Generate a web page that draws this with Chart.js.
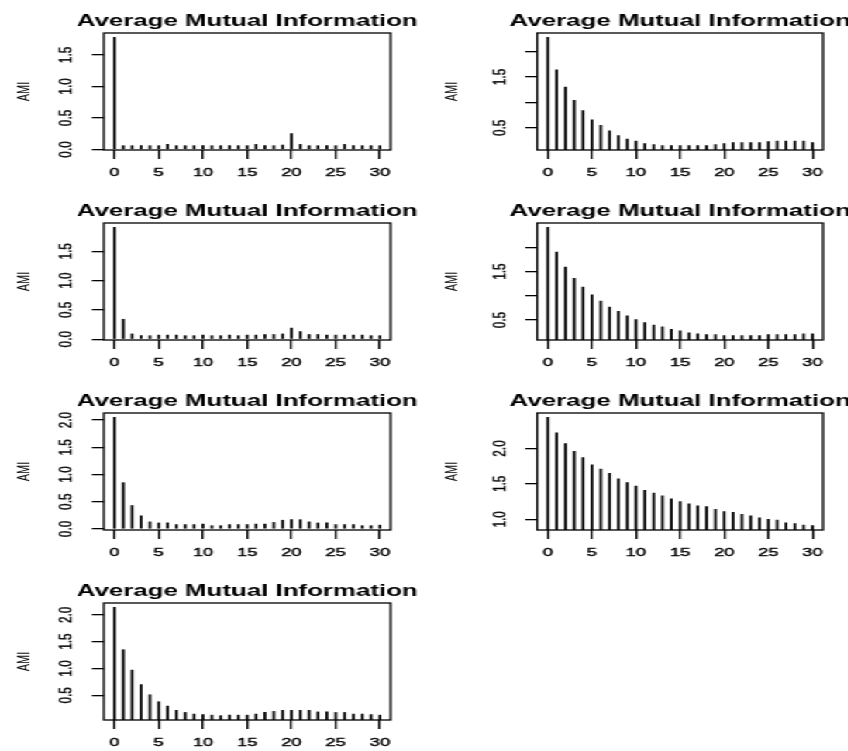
<!DOCTYPE html>
<html>
<head>
<meta charset="utf-8">
<script src="https://cdn.jsdelivr.net/npm/chart.js@4/dist/chart.umd.min.js"></script>
<style>
  html, body { margin: 0; padding: 0; background: #fff; overflow: hidden; }
  /* the reference is stretched sideways, so draw narrow and widen */
  #wrap { position: absolute; left: 0; top: 0; width: 547px; height: 751px;
          transform: scaleX(1.55); transform-origin: 0 0; }
  #wrap canvas { position: absolute; }
</style>
</head>
<body>
<div id="wrap"></div>
<script>
const chartTitle = 'Average Mutual Information';
const yTitle = 'AMI';

const lags = [0, 1, 2, 3, 4, 5, 6, 7, 8, 9, 10, 11, 12, 13, 14, 15,
              16, 17, 18, 19, 20, 21, 22, 23, 24, 25, 26, 27, 28, 29, 30];
const xTicks = [0, 5, 10, 15, 20, 25, 30];

// AMI per lag, one list per panel (reading order: left/right, top to bottom)
const ami1 = [1.78, 0.06, 0.06, 0.06, 0.06, 0.06, 0.08, 0.06, 0.06, 0.06, 0.06, 0.06, 0.06, 0.06, 0.06, 0.06,
              0.08, 0.06, 0.06, 0.07, 0.25, 0.08, 0.06, 0.06, 0.06, 0.06, 0.08, 0.06, 0.06, 0.06, 0.06];
const ami2 = [2.28, 1.64, 1.30, 1.04, 0.84, 0.66, 0.55, 0.44, 0.35, 0.28, 0.24, 0.19, 0.17, 0.15, 0.15, 0.15,
              0.15, 0.15, 0.15, 0.17, 0.19, 0.21, 0.21, 0.21, 0.21, 0.23, 0.24, 0.24, 0.24, 0.24, 0.21];
const ami3 = [1.91, 0.34, 0.09, 0.06, 0.06, 0.07, 0.07, 0.07, 0.06, 0.06, 0.07, 0.06, 0.06, 0.07, 0.06, 0.07,
              0.07, 0.08, 0.08, 0.09, 0.19, 0.13, 0.08, 0.08, 0.07, 0.07, 0.07, 0.07, 0.07, 0.06, 0.06];
const ami4 = [2.41, 1.90, 1.59, 1.36, 1.18, 1.02, 0.89, 0.77, 0.68, 0.59, 0.51, 0.45, 0.40, 0.36, 0.31, 0.28,
              0.24, 0.22, 0.20, 0.20, 0.18, 0.18, 0.18, 0.18, 0.18, 0.20, 0.20, 0.20, 0.20, 0.22, 0.22];
const ami5 = [2.05, 0.85, 0.43, 0.24, 0.13, 0.11, 0.11, 0.08, 0.08, 0.08, 0.09, 0.06, 0.06, 0.08, 0.08, 0.08,
              0.09, 0.09, 0.12, 0.16, 0.17, 0.17, 0.13, 0.11, 0.11, 0.08, 0.08, 0.08, 0.06, 0.06, 0.07];
const ami6 = [2.44, 2.22, 2.07, 1.96, 1.87, 1.77, 1.71, 1.65, 1.57, 1.52, 1.47, 1.41, 1.37, 1.33, 1.29, 1.25,
              1.22, 1.19, 1.18, 1.14, 1.11, 1.10, 1.07, 1.05, 1.02, 1.00, 0.99, 0.95, 0.94, 0.92, 0.91];
const ami7 = [2.14, 1.35, 0.97, 0.70, 0.51, 0.38, 0.30, 0.22, 0.18, 0.15, 0.14, 0.13, 0.12, 0.13, 0.13, 0.13,
              0.15, 0.18, 0.20, 0.22, 0.22, 0.22, 0.22, 0.19, 0.19, 0.18, 0.18, 0.15, 0.15, 0.14, 0.13];

const yTicks1 = [0, 0.5, 1, 1.5];      const yLabels1 = ['0.0', '0.5', '1.0', '1.5'];
const yTicks2 = [0.5, 1, 1.5, 2];      const yLabels2 = ['0.5', '', '1.5', ''];
const yTicks3 = [0, 0.5, 1, 1.5];      const yLabels3 = ['0.0', '0.5', '1.0', '1.5'];
const yTicks4 = [0.5, 1, 1.5, 2];      const yLabels4 = ['0.5', '', '1.5', ''];
const yTicks5 = [0, 0.5, 1, 1.5, 2];   const yLabels5 = ['0.0', '0.5', '1.0', '1.5', '2.0'];
const yTicks6 = [1, 1.5, 2];           const yLabels6 = ['1.0', '1.5', '2.0'];
const yTicks7 = [0.5, 1, 1.5, 2];      const yLabels7 = ['0.5', '1.0', '1.5', '2.0'];

const panels = [
  { vals: ami1, yt: yTicks1, yl: yLabels1, row: 0, col: 0 },
  { vals: ami2, yt: yTicks2, yl: yLabels2, row: 0, col: 1 },
  { vals: ami3, yt: yTicks3, yl: yLabels3, row: 1, col: 0 },
  { vals: ami4, yt: yTicks4, yl: yLabels4, row: 1, col: 1 },
  { vals: ami5, yt: yTicks5, yl: yLabels5, row: 2, col: 0 },
  { vals: ami6, yt: yTicks6, yl: yLabels6, row: 2, col: 1 },
  { vals: ami7, yt: yTicks7, yl: yLabels7, row: 3, col: 0 },
];

const FONT = '"Liberation Sans", Arial, sans-serif';

// column geometry (unstretched px)
const cols = [
  { left: 0,   width: 274, axisW: 67, padR: 22, titlePad: 9 },
  { left: 274, width: 273, axisW: 72.6, padR: 16, titlePad: 11 },
];

// box round the plot area and the bold title above it, like base R graphics
const boxAndTitle = {
  id: 'boxAndTitle',
  afterDraw(chart) {
    const { ctx, chartArea: a } = chart;
    ctx.save();
    ctx.strokeStyle = '#000';
    ctx.lineWidth = 1.3;
    ctx.strokeRect(a.left, a.top, a.right - a.left, a.bottom - a.top);
    ctx.fillStyle = '#000';
    ctx.font = 'bold 16.7px ' + FONT;
    ctx.textAlign = 'center';
    ctx.textBaseline = 'middle';
    ctx.fillText(chartTitle, (a.left + a.right) / 2, a.top - 12);
    ctx.restore();
  }
};

const wrap = document.getElementById('wrap');

panels.forEach(p => {
  const c = cols[p.col];
  const canvas = document.createElement('canvas');
  canvas.width = c.width;
  canvas.height = 190;
  canvas.style.left = c.left + 'px';
  canvas.style.top = (p.row * 190) + 'px';
  wrap.appendChild(canvas);

  // R style axis range: data range widened by 4% each side
  const lo = Math.min(...p.vals), hi = Math.max(...p.vals);
  const ext = (hi - lo) * 0.04;

  new Chart(canvas.getContext('2d'), {
    type: 'bar',
    data: {
      datasets: [{
        data: lags.map((l, i) => ({ x: l, y: p.vals[i] })),
        backgroundColor: '#000',
        borderWidth: 0,
        barThickness: 1.1
      }]
    },
    options: {
      responsive: false,
      animation: false,
      devicePixelRatio: 1,
      layout: { padding: { left: 0, right: c.padR, top: 33, bottom: 0 } },
      plugins: {
        legend: { display: false },
        tooltip: { enabled: false },
        title: { display: false }
      },
      scales: {
        x: {
          type: 'linear',
          min: -1.2,
          max: 31.2,
          offset: false,
          bounds: 'data',
          afterBuildTicks: s => { s.ticks = xTicks.map(v => ({ value: v })); },
          afterFit: s => { s.height = 40; },
          ticks: {
            color: '#000',
            textStrokeColor: '#000',
            textStrokeWidth: 0.4,
            font: { family: FONT, size: 11.8 },
            padding: 7,
            maxRotation: 0,
            autoSkip: false,
            callback: v => String(v)
          },
          grid: { offset: false, drawOnChartArea: false, tickLength: 9, color: '#000', lineWidth: 1.3 },
          border: { display: false }
        },
        y: {
          type: 'linear',
          min: lo - ext,
          max: hi + ext,
          beginAtZero: false,
          bounds: 'data',
          afterBuildTicks: s => { s.ticks = p.yt.map(v => ({ value: v })); },
          afterFit: s => { s.width = c.axisW; },
          title: {
            display: true,
            text: yTitle,
            color: '#000',
            font: { family: FONT, size: 11 },
            padding: { top: c.titlePad, bottom: 0 }
          },
          ticks: {
            color: '#000',
            textStrokeColor: '#000',
            textStrokeWidth: 0.4,
            font: { family: FONT, size: 11.8 },
            minRotation: 90,
            maxRotation: 90,
            crossAlign: 'center',
            padding: 8,
            autoSkip: false,
            callback: (v, i) => p.yl[i]
          },
          grid: { drawOnChartArea: false, tickLength: 7.7, color: '#000', lineWidth: 1.3 },
          border: { display: false }
        }
      }
    },
    plugins: [boxAndTitle]
  });
});
</script>
</body>
</html>
